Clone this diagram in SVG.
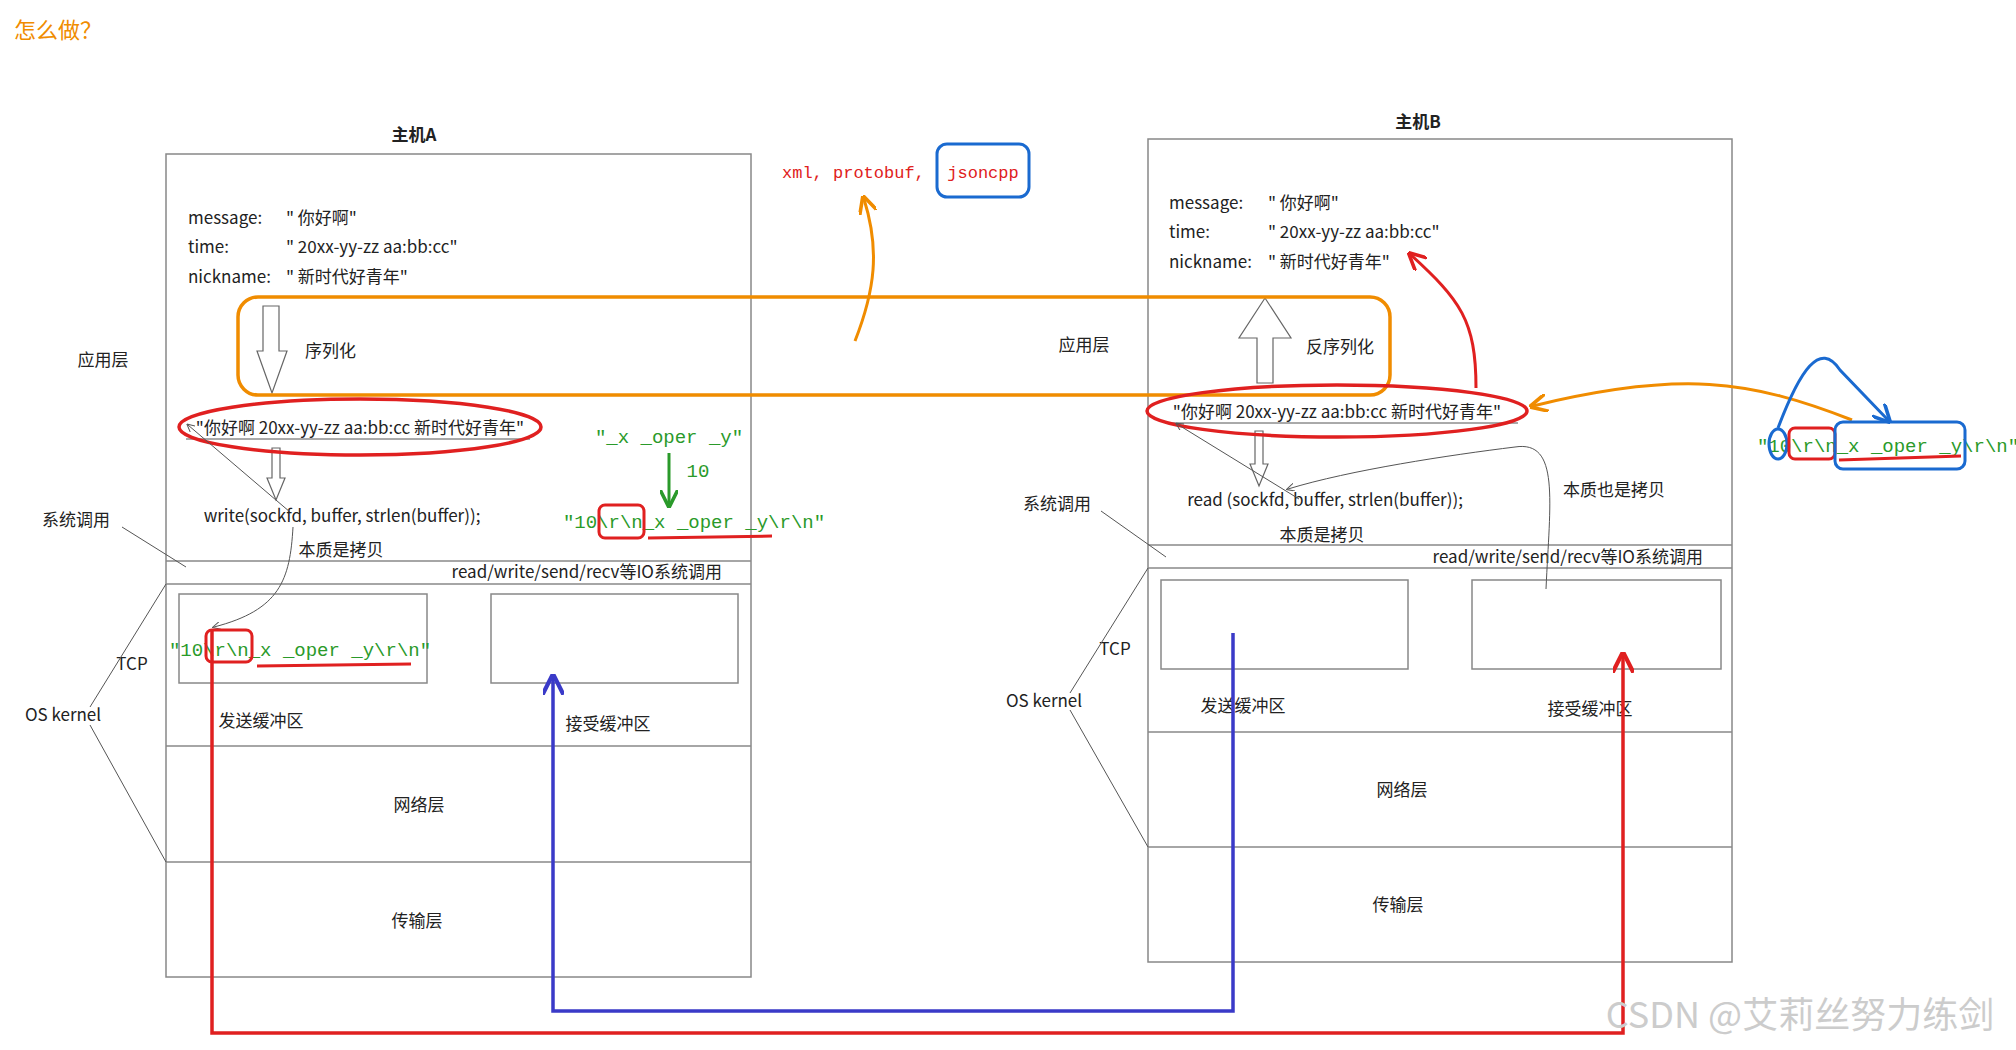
<svg xmlns="http://www.w3.org/2000/svg" width="2016" height="1050" viewBox="0 0 2016 1050">
<defs>
<style>
text{font-family:"Noto Sans CJK SC","Liberation Sans",sans-serif;font-size:17px;fill:#222}
.c{text-anchor:middle}
.box{fill:none;stroke:#888;stroke-width:1.5}
.thin{fill:none;stroke:#555;stroke-width:1}
.hand{font-family:"Liberation Mono",monospace;font-size:19px}
.g{fill:#2a9a2a}
.hollow{fill:#fff;stroke:#666;stroke-width:1.2}
</style>
<marker id="ab" viewBox="0 0 10 10" refX="8" refY="5" markerWidth="8" markerHeight="8" orient="auto-start-reverse"><path d="M0,0L10,5L0,10" fill="none" stroke="#555" stroke-width="1.2"/></marker>
<marker id="ao" viewBox="0 0 10 10" refX="8" refY="5" markerWidth="6" markerHeight="6" orient="auto"><path d="M0,0L10,5L0,10" fill="none" stroke="#f08c00" stroke-width="2"/></marker>
<marker id="ar" viewBox="0 0 10 10" refX="8" refY="5" markerWidth="6" markerHeight="6" orient="auto"><path d="M0,0L10,5L0,10" fill="none" stroke="#e02020" stroke-width="2"/></marker>
<marker id="abl" viewBox="0 0 10 10" refX="8" refY="5" markerWidth="6" markerHeight="6" orient="auto"><path d="M0,0L10,5L0,10" fill="none" stroke="#3a3ac8" stroke-width="2"/></marker>
<marker id="abu" viewBox="0 0 10 10" refX="8" refY="5" markerWidth="6" markerHeight="6" orient="auto"><path d="M0,0L10,5L0,10" fill="none" stroke="#1a6ad0" stroke-width="2"/></marker>
<marker id="ag" viewBox="0 0 10 10" refX="8" refY="5" markerWidth="6" markerHeight="6" orient="auto"><path d="M0,0L10,5L0,10" fill="none" stroke="#2a9a2a" stroke-width="2"/></marker>
</defs>
<rect width="2016" height="1050" fill="#fff"/>
<text x="14" y="38" style="fill:#f08c00;font-size:22px">怎么做？</text>

<g id="hostA">
<text x="414" y="141" class="c" style="font-weight:bold">主机A</text>
<rect x="166" y="154" width="585" height="823" class="box"/>
<line x1="166" y1="561" x2="751" y2="561" class="box"/>
<line x1="166" y1="584" x2="751" y2="584" class="box"/>
<line x1="166" y1="746" x2="751" y2="746" class="box"/>
<line x1="166" y1="862" x2="751" y2="862" class="box"/>
<text x="188" y="224">message:</text><text x="286" y="224">" 你好啊"</text>
<text x="188" y="253">time:</text><text x="286" y="253">" 20xx-yy-zz aa:bb:cc"</text>
<text x="188" y="283">nickname:</text><text x="286" y="283">" 新时代好青年"</text>
<path d="M263,306h16v45h8l-15,42l-15,-42h6z" class="hollow"/>
<text x="305" y="357">序列化</text>
<text x="360" y="434" class="c">"你好啊 20xx-yy-zz aa:bb:cc 新时代好青年"</text>
<line x1="186" y1="439" x2="530" y2="439" stroke="#555"/>
<path d="M272,448h8v30h5l-9,22l-9,-22h5z" class="hollow"/>
<text x="342" y="522" class="c">write(sockfd, buffer, strlen(buffer));</text>
<text x="341" y="556" class="c">本质是拷贝</text>
<text x="722" y="578" style="text-anchor:end">read/write/send/recv等IO系统调用</text>
<rect x="179" y="594" width="248" height="89" class="box"/>
<rect x="491" y="594" width="247" height="89" class="box"/>
<text x="261" y="727" class="c">发送缓冲区</text>
<text x="608" y="730" class="c">接受缓冲区</text>
<text x="419" y="811" class="c">网络层</text>
<text x="417" y="927" class="c">传输层</text>
<text x="103" y="366" class="c">应用层</text>
<text x="76" y="526" class="c">系统调用</text>
<text x="132" y="670" class="c">TCP</text>
<text x="63" y="721" class="c">OS kernel</text>
<text x="300" y="656" class="c hand g">"10\r\n_x _oper _y\r\n"</text>
<text x="669" y="443" class="c hand g">"_x _oper _y"</text>
<text x="698" y="477" class="c hand g">10</text>
<text x="694" y="528" class="c hand g">"10\r\n_x _oper _y\r\n"</text>
</g>

<g id="hostB">
<text x="1418" y="128" class="c" style="font-weight:bold">主机B</text>
<rect x="1148" y="139" width="584" height="823" class="box"/>
<line x1="1148" y1="545" x2="1732" y2="545" class="box"/>
<line x1="1148" y1="568" x2="1732" y2="568" class="box"/>
<line x1="1148" y1="732" x2="1732" y2="732" class="box"/>
<line x1="1148" y1="847" x2="1732" y2="847" class="box"/>
<text x="1169" y="209">message:</text><text x="1268" y="209">" 你好啊"</text>
<text x="1169" y="238">time:</text><text x="1268" y="238">" 20xx-yy-zz aa:bb:cc"</text>
<text x="1169" y="268">nickname:</text><text x="1268" y="268">" 新时代好青年"</text>
<path d="M1257,383v-45h-18l26,-40l26,40h-18v45z" class="hollow"/>
<text x="1306" y="353">反序列化</text>
<text x="1337" y="418" class="c">"你好啊 20xx-yy-zz aa:bb:cc 新时代好青年"</text>
<line x1="1165" y1="423" x2="1518" y2="423" stroke="#555"/>
<path d="M1255,431h8v33h5l-9,22l-9,-22h5z" class="hollow"/>
<text x="1325" y="506" class="c">read (sockfd, buffer, strlen(buffer));</text>
<text x="1322" y="541" class="c">本质是拷贝</text>
<text x="1614" y="496" class="c">本质也是拷贝</text>
<text x="1703" y="563" style="text-anchor:end">read/write/send/recv等IO系统调用</text>
<rect x="1161" y="580" width="247" height="89" class="box"/>
<rect x="1472" y="580" width="249" height="89" class="box"/>
<text x="1243" y="712" class="c">发送缓冲区</text>
<text x="1590" y="715" class="c">接受缓冲区</text>
<text x="1402" y="796" class="c">网络层</text>
<text x="1398" y="911" class="c">传输层</text>
<text x="1084" y="351" class="c">应用层</text>
<text x="1057" y="510" class="c">系统调用</text>
<text x="1115" y="655" class="c">TCP</text>
<text x="1044" y="707" class="c">OS kernel</text>
<text x="1888" y="452" class="c hand g">"10\r\n_x _oper _y\r\n"</text>
</g>

<g id="formats">
<text x="782" y="178" class="hand" style="fill:#e02020;font-size:17px">xml, protobuf,</text>
<text x="983" y="178" class="c hand" style="fill:#e02020;font-size:17px">jsoncpp</text>
<rect x="937" y="144" width="92" height="53" rx="10" fill="none" stroke="#1a6ad0" stroke-width="3"/>
</g>

<g id="connectors">
<rect x="238" y="297" width="1152" height="98" rx="20" fill="none" stroke="#f08c00" stroke-width="3.5"/>
<ellipse cx="360" cy="427" rx="181" ry="28" fill="none" stroke="#e02020" stroke-width="3.5"/>
<ellipse cx="1337" cy="411" rx="190" ry="26" fill="none" stroke="#e02020" stroke-width="3.5"/>
<line x1="290" y1="512" x2="188" y2="425" class="thin" marker-end="url(#ab)"/>
<path d="M293,527C290,580 280,610 214,627" class="thin" marker-end="url(#ab)"/>
<line x1="1299" y1="499" x2="1177" y2="424" class="thin" marker-end="url(#ab)"/>
<path d="M1546,589C1550,500 1560,440 1515,447C1450,455 1350,470 1288,489" class="thin" marker-end="url(#ab)"/>
<line x1="122" y1="527" x2="186" y2="567" class="thin"/>
<line x1="1101" y1="511" x2="1166" y2="557" class="thin"/>
<path d="M90,707L166,584M90,725L166,862" class="thin"/>
<path d="M1070,693L1148,568M1070,710L1148,847" class="thin"/>
<path d="M855,341C875,290 880,250 864,199" fill="none" stroke="#f08c00" stroke-width="3" marker-end="url(#ao)"/>
<path d="M1852,420C1750,380 1680,370 1533,406" fill="none" stroke="#f08c00" stroke-width="3" marker-end="url(#ao)"/>
<path d="M1476,388C1476,320 1460,300 1411,255" fill="none" stroke="#e02020" stroke-width="3" marker-end="url(#ar)"/>
<line x1="669" y1="453" x2="669" y2="504" stroke="#2a9a2a" stroke-width="3" marker-end="url(#ag)"/>
<rect x="599" y="505" width="45" height="33" rx="6" fill="none" stroke="#e02020" stroke-width="3"/>
<line x1="648" y1="538" x2="772" y2="536" stroke="#e02020" stroke-width="3"/>
<rect x="206" y="630" width="46" height="32" rx="6" fill="none" stroke="#e02020" stroke-width="3"/>
<line x1="257" y1="666" x2="411" y2="664" stroke="#e02020" stroke-width="3"/>
<ellipse cx="1778" cy="444" rx="9" ry="15" fill="none" stroke="#1a6ad0" stroke-width="3"/>
<rect x="1789" y="428" width="46" height="31" rx="6" fill="none" stroke="#e02020" stroke-width="3"/>
<rect x="1835" y="422" width="130" height="47" rx="8" fill="none" stroke="#1a6ad0" stroke-width="3"/>
<line x1="1839" y1="460" x2="1961" y2="456" stroke="#e02020" stroke-width="3"/>
<path d="M1778,428C1800,370 1820,340 1840,370L1888,420" fill="none" stroke="#1a6ad0" stroke-width="3" marker-end="url(#abu)"/>
<path d="M1233,633V1011H553V678" fill="none" stroke="#3a3ac8" stroke-width="3.5" marker-end="url(#abl)"/>
<path d="M212,630V1033H1623V656" fill="none" stroke="#e02020" stroke-width="3.5" marker-end="url(#ar)"/>
</g>
<text x="1800" y="1028" class="c" style="font-size:36px;fill:#ccc">CSDN @艾莉丝努力练剑</text>
</svg>
